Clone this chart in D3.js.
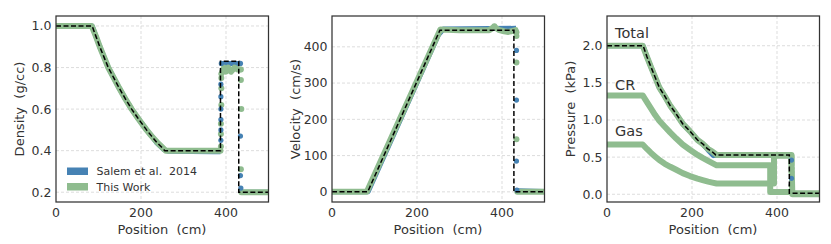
<html>
<head>
<script src="https://d3js.org/d3.v7.min.js"></script>
<style>
body { margin: 0; background: white; }
text { fill: #333; }
</style>
</head>
<body>
<script>
//DATA - pairs of [position (cm), value]
//null marks a break in the line (cells across shocks are drawn as dots only)

//DENSITY (g/cc)
var densExact = [[0,1.0],[85,1.0],[94,0.95],[103,0.9],[113,0.85],[123,0.8],[136,0.75],[149,0.7],[163,0.65],[178,0.6],
	[195,0.55],[213,0.5],[225,0.47],[237,0.44],[247,0.42],[256,0.4],
	[387,0.4],[387,0.83],[430,0.83],[430,0.2],[500,0.2]];
var densSalem = [[0,1.0],[85,1.0],[94,0.95],[103,0.9],[113,0.85],[123,0.8],[136,0.75],[149,0.7],[163,0.65],[178,0.6],
	[195,0.55],[213,0.5],[225,0.47],[236,0.44],[246,0.42],[254,0.405],[264,0.397],
	[372,0.395],[387,0.395],null,[389,0.82],[434,0.82],null,[435,0.2],[500,0.2]];
var densSalemDots = [[388,0.45],[388,0.5],[388,0.55],[388,0.6],[388,0.66],[388,0.72],[389,0.82],[434,0.82],
	[434,0.47],[434,0.28],[435,0.22]];
var densThis = [[0,1.0],[84,1.0],[94,0.95],[103,0.9],[113,0.85],[123,0.8],[136,0.75],[149,0.7],[163,0.65],[178,0.6],
	[195,0.55],[213,0.5],[225,0.47],[238,0.44],[248,0.42],[258,0.4],
	[387,0.4],null,[389,0.77],[395,0.8],[400,0.78],[405,0.8],[412,0.78],[420,0.8],[428,0.79],[433,0.79],null,[436,0.2],[500,0.2]];
var densThisDots = [[388,0.42],[388,0.48],[388,0.53],[389,0.62],[389,0.7],[389,0.75],[435,0.79],[435,0.74],[436,0.6],[435,0.31]];

//VELOCITY (cm/s)
var velExact = [[0,0],[84,0],[254,446],[428,446],[428,0],[500,0]];
var velSalem = [[0,0],[85,0],[250,432],[262,449],[433,451],null,[435,3],[500,1]];
var velSalemDots = [[434,390],[434,253],[434,85],[435,5]];
var velThis = [[0,0],[82,0],[255,448],[300,446],[370,446],[382,455],[392,447],[405,443],[415,441],[425,444],[432,446],null,[436,0],[500,0]];
var velThisDots = [[382,457],[434,440],[434,430],[434,357],[434,145]];

//PRESSURE (kPa)
var presExact = [[0,2.0],[85,2.0],[94,1.85],[103,1.72],[113,1.58],[123,1.44],[136,1.32],[149,1.19],[163,1.08],[178,0.95],
	[195,0.85],[213,0.73],[225,0.68],[237,0.61],[247,0.575],[256,0.53],
	[429,0.53],[429,0.013],[500,0.013]];
var presSalem = [[0,2.0],[85,2.0],[94,1.85],[103,1.72],[113,1.58],[123,1.44],[136,1.32],[149,1.19],[163,1.08],[178,0.95],
	[195,0.85],[213,0.73],[225,0.68],[237,0.6],[250,0.52],[262,0.53],
	[433,0.53],null,[436,0.01],[500,0.01]];
var presSalemDots = [[434,0.46],[434,0.215]];
var presTotal = [[0,2.0],[84,2.0],[94,1.85],[103,1.72],[113,1.58],[123,1.44],[136,1.32],[149,1.19],[163,1.08],[178,0.95],
	[195,0.85],[213,0.73],[225,0.68],[238,0.61],[248,0.575],[258,0.53],
	[434,0.53],[434,0.4],null,[436,0.01],[500,0.01]];
var presTotalDots = [[434,0.35],[434,0.3],[434,0.12],[434,0.05]];
var presCR = [[0,1.33],[84,1.33],[94,1.24],[103,1.16],[113,1.07],[123,0.99],[136,0.91],[149,0.83],[163,0.75],[178,0.67],
	[195,0.6],[213,0.53],[225,0.49],[238,0.45],[248,0.42],[258,0.39],
	[384,0.39],[384,0.03],[434,0.03],[436,0.0],[500,0.0]];
var presGas = [[0,0.67],[84,0.67],[94,0.61],[103,0.56],[113,0.51],[123,0.46],[136,0.41],[149,0.37],[163,0.33],[178,0.285],
	[195,0.245],[213,0.21],[225,0.19],[238,0.17],[248,0.157],[258,0.145],
	[393,0.145],[393,0.52],[434,0.52],[436,0.01],[500,0.01]];

//TICKS AND LABELS
var xTicks = [0, 200, 400];
var densTicks = [0.2, 0.4, 0.6, 0.8, 1.0];
var velTicks = [0, 100, 200, 300, 400];
var presTicks = [0.0, 0.5, 1.0, 1.5, 2.0];
var legendNames = ["Salem et al.  2014", "This Work"];
var presLabels = [{t:"Total", x:19, y:2.1}, {t:"CR", x:19, y:1.4}, {t:"Gas", x:19, y:0.78}];

var blue = "#4682b4";
var green = "#8fbc8f";

var svg = d3.select("body")
	.append("svg")
	.attr("width", 831)
	.attr("height", 244);
var defs = svg.append("defs");
var panelCount = 0;

//DRAWING ONE PANEL
function drawPanel(p) {
	var x = d3.scaleLinear().domain([0, 500]).range([p.left, p.left + 212.5]);
	var y = d3.scaleLinear().domain(p.yDomain).range([202, 16]);
	var g = svg.append("g");

	//clip to the axes box
	var clipId = "clip" + (panelCount++);
	defs.append("clipPath").attr("id", clipId).append("rect")
		.attr("x", p.left).attr("y", 16).attr("width", 212.5).attr("height", 186);

	//grid
	g.selectAll(".gx").data(xTicks.slice(1)).enter().append("line")
		.attr("x1", function(d) { return x(d) }).attr("x2", function(d) { return x(d) })
		.attr("y1", 16).attr("y2", 202)
		.attr("stroke", "#d4d4d4").attr("stroke-width", 0.8).attr("stroke-dasharray", "3,2");
	g.selectAll(".gy").data(p.yTicks).enter().append("line")
		.attr("x1", p.left).attr("x2", p.left + 212.5)
		.attr("y1", function(d) { return y(d) }).attr("y2", function(d) { return y(d) })
		.attr("stroke", "#d4d4d4").attr("stroke-width", 0.8).attr("stroke-dasharray", "3,2");

	var clip = g.append("g").attr("clip-path", "url(#" + clipId + ")");
	var line = d3.line()
		.defined(function(d) { return d != null })
		.x(function(d) { return x(d[0]) })
		.y(function(d) { return y(d[1]) });

	//Salem et al. line below
	clip.append("path").datum(p.salem).attr("d", line)
		.attr("fill", "none").attr("stroke", blue).attr("stroke-width", 5).attr("stroke-linejoin", "round");

	//This Work lines
	p.mine.forEach(function(s) {
		clip.append("path").datum(s).attr("d", line)
			.attr("fill", "none").attr("stroke", green).attr("stroke-width", 6)
			.attr("stroke-linejoin", "round").attr("stroke-linecap", "round");
	});
	clip.selectAll(".gd").data(p.mineDots).enter().append("circle")
		.attr("cx", function(d) { return x(d[0]) }).attr("cy", function(d) { return y(d[1]) })
		.attr("r", 3).attr("fill", green);
	clip.selectAll(".bd").data(p.salemDots).enter().append("circle")
		.attr("cx", function(d) { return x(d[0]) }).attr("cy", function(d) { return y(d[1]) })
		.attr("r", 2.6).attr("fill", blue);

	//analytic solution
	clip.append("path").datum(p.exact).attr("d", line)
		.attr("fill", "none").attr("stroke", "black").attr("stroke-width", 1.5).attr("stroke-dasharray", "5,2.5");

	//frame
	g.append("rect").attr("x", p.left).attr("y", 16).attr("width", 212.5).attr("height", 186)
		.attr("fill", "none").attr("stroke", "#333").attr("stroke-width", 1.25);

	//tick labels
	g.selectAll(".tx").data(xTicks).enter().append("text")
		.attr("x", function(d) { return x(d) }).attr("y", 217)
		.attr("text-anchor", "middle")
		.style("font", "12.5px 'DejaVu Sans'")
		.text(function(d) { return d });
	g.selectAll(".ty").data(p.yTicks).enter().append("text")
		.attr("x", p.left - 4.5).attr("y", function(d) { return y(d) + 4.4 })
		.attr("text-anchor", "end")
		.style("font", "12.5px 'DejaVu Sans'")
		.text(function(d) { return p.fmt(d) });

	//axis labels
	g.append("text").attr("x", p.left + 106).attr("y", 234)
		.attr("text-anchor", "middle").style("font", "13px 'DejaVu Sans'")
		.style("white-space", "pre").text("Position  (cm)");
	g.append("text").attr("transform", "translate(" + (p.left - 32.5) + ",109) rotate(-90)")
		.attr("text-anchor", "middle").style("font", "13px 'DejaVu Sans'")
		.style("white-space", "pre").text(p.yLabel);

	return {x:x, y:y, g:g};
}

var dens = drawPanel({left:56, yDomain:[0.153, 1.048], yTicks:densTicks, fmt:d3.format(".1f"),
	yLabel:"Density  (g/cc)", exact:densExact, salem:densSalem, salemDots:densSalemDots,
	mine:[densThis], mineDots:densThisDots});

drawPanel({left:332, yDomain:[-28, 485], yTicks:velTicks, fmt:d3.format("d"),
	yLabel:"Velocity  (cm/s)", exact:velExact, salem:velSalem, salemDots:velSalemDots,
	mine:[velThis], mineDots:velThisDots});

var pres = drawPanel({left:607, yDomain:[-0.104, 2.4], yTicks:presTicks, fmt:d3.format(".1f"),
	yLabel:"Pressure  (kPa)", exact:presExact, salem:presSalem, salemDots:presSalemDots,
	mine:[presTotal, presCR, presGas], mineDots:presTotalDots});

//PRESSURE COMPONENT LABELS
pres.g.selectAll(".pl").data(presLabels).enter().append("text")
	.attr("x", function(d) { return pres.x(d.x) }).attr("y", function(d) { return pres.y(d.y) })
	.style("font", "14.5px 'DejaVu Sans'")
	.text(function(d) { return d.t });

//LEGEND
var legend = dens.g.selectAll(".lg").data(legendNames).enter().append("g")
	.attr("transform", function(d, i) { return "translate(67," + (167.5 + i * 15.5) + ")" });
legend.append("rect").attr("width", 21).attr("height", 7.5)
	.attr("fill", function(d, i) { return i == 0 ? blue : green });
legend.append("text").attr("x", 29.5).attr("y", 7.8)
	.style("font", "11px 'DejaVu Sans'").style("white-space", "pre")
	.text(function(d) { return d });
</script>
</body>
</html>
